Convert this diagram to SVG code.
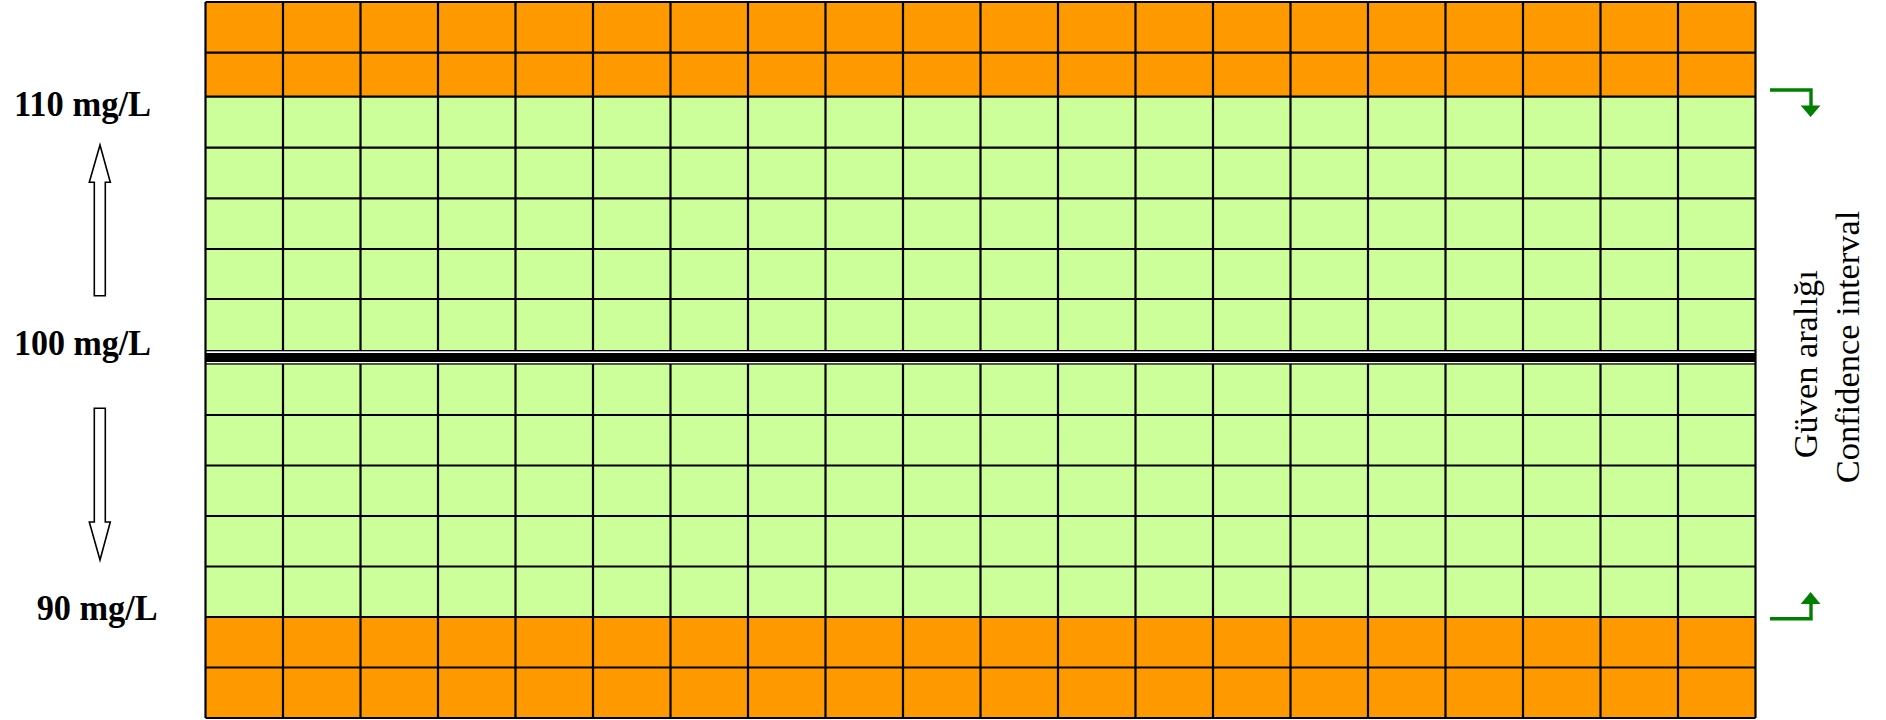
<svg xmlns="http://www.w3.org/2000/svg" width="1886" height="720" viewBox="0 0 1886 720">
<style>
.lbl{font-family:"Liberation Serif","Times New Roman",serif;font-weight:bold;font-size:36px;fill:#000}
.vt{font-family:"Liberation Serif","Times New Roman",serif;font-size:34.5px;fill:#000}
.grid{stroke:#000;stroke-width:2.2;fill:none}
.harrow{fill:#fff;stroke:#000;stroke-width:1.6;stroke-linejoin:miter}
.garrow{fill:none;stroke:#008000;stroke-width:3.4}
.ghead{fill:#008000}
</style>
<rect width="1886" height="720" fill="#fff"/>
<g id="bands">
<rect x="205.5" y="2" width="1550" height="94.7" fill="#FF9900"/>
<rect x="205.5" y="96.7" width="1550" height="520.3" fill="#CCFF99"/>
<rect x="205.5" y="617" width="1550" height="101" fill="#FF9900"/>
</g>
<g id="gridlines" class="grid">
<path d="M205.5,2H1755.5M205.5,52.7H1755.5M205.5,96.7H1755.5M205.5,147.7H1755.5M205.5,198.3H1755.5M205.5,249H1755.5M205.5,299H1755.5M205.5,415H1755.5M205.5,465.5H1755.5M205.5,516H1755.5M205.5,566.5H1755.5M205.5,617H1755.5M205.5,667.5H1755.5M205.5,718H1755.5"/>
<path d="M205.5,2V718M283,2V718M360.5,2V718M438,2V718M515.5,2V718M593,2V718M670.5,2V718M748,2V718M825.5,2V718M903,2V718M980.5,2V718M1058,2V718M1135.5,2V718M1213,2V718M1290.5,2V718M1368,2V718M1445.5,2V718M1523,2V718M1600.5,2V718M1678,2V718M1755.5,2V718"/>
</g>
<g id="centerline">
<rect x="205.5" y="350" width="1550" height="14.6" fill="#000"/>
<rect x="206.6" y="351.3" width="1547.8" height="1.7" fill="#fff"/>
<rect x="206.6" y="362" width="1547.8" height="1.3" fill="#fff"/>
</g>
<g id="labels">
<text class="lbl" x="14" y="115.7" textLength="137" lengthAdjust="spacingAndGlyphs">110 mg/L</text>
<text class="lbl" x="14" y="355" textLength="137" lengthAdjust="spacingAndGlyphs">100 mg/L</text>
<text class="lbl" x="36.7" y="620" textLength="121" lengthAdjust="spacingAndGlyphs">90 mg/L</text>
</g>
<g id="connectors">
<polygon class="harrow" points="100,145 110.3,182.3 105.3,182.3 105.3,295.7 94.3,295.7 94.3,182.3 89.3,182.3"/>
<polygon class="harrow" points="100,560 110.3,522 105.3,522 105.3,408.3 94.3,408.3 94.3,522 89.3,522"/>
<polyline class="garrow" points="1770,90 1811,90 1811,106"/>
<polygon class="ghead" points="1800.7,105.5 1820.5,105.5 1810.6,117"/>
<polyline class="garrow" points="1770,618.7 1811,618.7 1811,603.5"/>
<polygon class="ghead" points="1800.7,604 1820.5,604 1810.6,592"/>
</g>
<g id="interval-label">
<text class="vt" transform="translate(1817,458.3) rotate(-90)" textLength="188" lengthAdjust="spacingAndGlyphs">Güven aralığı</text>
<text class="vt" transform="translate(1858.5,483.3) rotate(-90)" textLength="272.6" lengthAdjust="spacingAndGlyphs">Confidence interval</text>
</g>
</svg>
